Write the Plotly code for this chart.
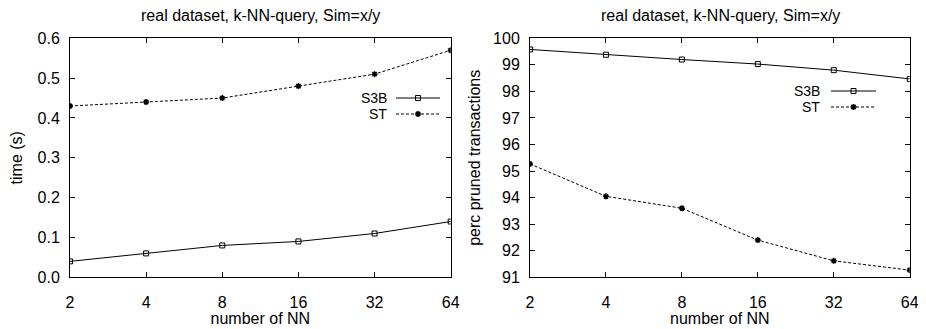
import plotly.graph_objects as go

nn = [2, 4, 8, 16, 32, 64]
tick_labels = ["2", "4", "8", "16", "32", "64"]
time_s3b = [0.04, 0.06, 0.08, 0.09, 0.11, 0.14]
time_st = [0.43, 0.44, 0.45, 0.48, 0.51, 0.57]
pruned_s3b = [99.58, 99.38, 99.2, 99.03, 98.8, 98.47]
pruned_st = [95.27, 94.05, 93.6, 92.4, 91.62, 91.27]
series_names = ["S3B", "ST"]
title_text = "real dataset, k-NN-query, Sim=x/y"

# page body has an 8px margin: the figure is sized to fill the rest of the window
OFF = 8
W, H = 926 - OFF, 329 - OFF
FONT = "Liberation Sans, Arial, sans-serif"

def px(x):
    return (x - OFF) / W

def py(y):
    return 1 - (y - OFF) / H

fig = go.Figure()

s3b_marker = dict(symbol="square-open", size=5, color="black", line=dict(width=1, color="black"))
st_marker = dict(symbol="asterisk-open", size=5, color="black", line=dict(width=1.5, color="black"))
s3b_style = dict(mode="lines+markers", line=dict(color="black", width=1), marker=s3b_marker)
st_style = dict(mode="lines+markers", line=dict(color="black", width=1, dash="3px,2px"), marker=st_marker)

fig.add_trace(go.Scatter(x=nn, y=time_s3b, name=series_names[0], xaxis="x", yaxis="y", **s3b_style))
fig.add_trace(go.Scatter(x=nn, y=time_st, name=series_names[1], xaxis="x", yaxis="y", **st_style))
fig.add_trace(go.Scatter(x=nn, y=pruned_s3b, name=series_names[0], xaxis="x2", yaxis="y2", **s3b_style))
fig.add_trace(go.Scatter(x=nn, y=pruned_st, name=series_names[1], xaxis="x2", yaxis="y2", **st_style))

# custom legends (text left of sample, gnuplot style)
legends = [
    dict(text_x=389, line_x0=396, line_x1=440, ys=[98, 114]),
    dict(text_x=822, line_x0=831, line_x1=876, ys=[91, 107]),
]
for lg in legends:
    for i, name in enumerate(series_names):
        y = lg["ys"][i]
        fig.add_annotation(text=name, x=px(lg["text_x"]), y=py(y), xref="paper", yref="paper",
                           xanchor="right", yanchor="middle", showarrow=False,
                           font=dict(family=FONT, size=14, color="black"))
        fig.add_shape(type="line", xref="paper", yref="paper",
                      x0=px(lg["line_x0"]), x1=px(lg["line_x1"]), y0=py(y), y1=py(y),
                      line=dict(color="black", width=1, dash="solid" if i == 0 else "3px,2px"))
        fig.add_trace(go.Scatter(x=[px((lg["line_x0"] + lg["line_x1"]) / 2)], y=[py(y)],
                                 xaxis="x3", yaxis="y3", mode="markers",
                                 marker=s3b_marker if i == 0 else st_marker,
                                 showlegend=False, hoverinfo="skip"))

axis_common = dict(showgrid=False, zeroline=False, showline=True, linecolor="black", linewidth=1,
                   mirror="ticks", ticks="inside", ticklen=5, tickcolor="black", tickwidth=1,
                   automargin=False,
                   tickfont=dict(family=FONT, size=16, color="black"))
title_font = dict(family=FONT, size=16, color="black")

fig.update_layout(
    template="none",
    width=W, height=H, margin=dict(l=0, r=0, t=0, b=0, pad=0),
    paper_bgcolor="white", plot_bgcolor="rgba(0,0,0,0)", showlegend=False,
    xaxis=dict(domain=[px(70), px(450.7)], anchor="y", type="log",
               range=[0.30103, 1.80618], tickvals=nn, ticktext=tick_labels, ticklabelstandoff=10,
               title=dict(text="number of NN", font=title_font, standoff=1),
               **axis_common),
    yaxis=dict(domain=[py(277.3), py(38.3)], anchor="x", range=[0, 0.6], dtick=0.1,
               tickformat=".1f", ticklabelstandoff=6,
               title=dict(text="time (s)", font=title_font, standoff=12),
               **axis_common),
    xaxis2=dict(domain=[px(530), px(909.7)], anchor="y2", type="log",
                range=[0.30103, 1.80618], tickvals=nn, ticktext=tick_labels, ticklabelstandoff=10,
                title=dict(text="number of NN", font=title_font, standoff=1),
                **axis_common),
    yaxis2=dict(domain=[py(277.3), py(38.3)], anchor="x2", range=[91, 100], dtick=1,
                ticklabelstandoff=6,
                title=dict(text="perc pruned transactions", font=title_font, standoff=8),
                **axis_common),
    xaxis3=dict(domain=[0, 1], range=[0, 1], visible=False, anchor="y3", fixedrange=True, automargin=False),
    yaxis3=dict(domain=[0, 1], range=[0, 1], visible=False, anchor="x3", fixedrange=True, automargin=False),
)
for cx in (260.3, 720):
    fig.add_annotation(text=title_text, x=px(cx), y=py(15), xref="paper", yref="paper",
                       xanchor="center", yanchor="middle", showarrow=False,
                       font=dict(family=FONT, size=16, color="black"))

fig.write_html("out.html")
